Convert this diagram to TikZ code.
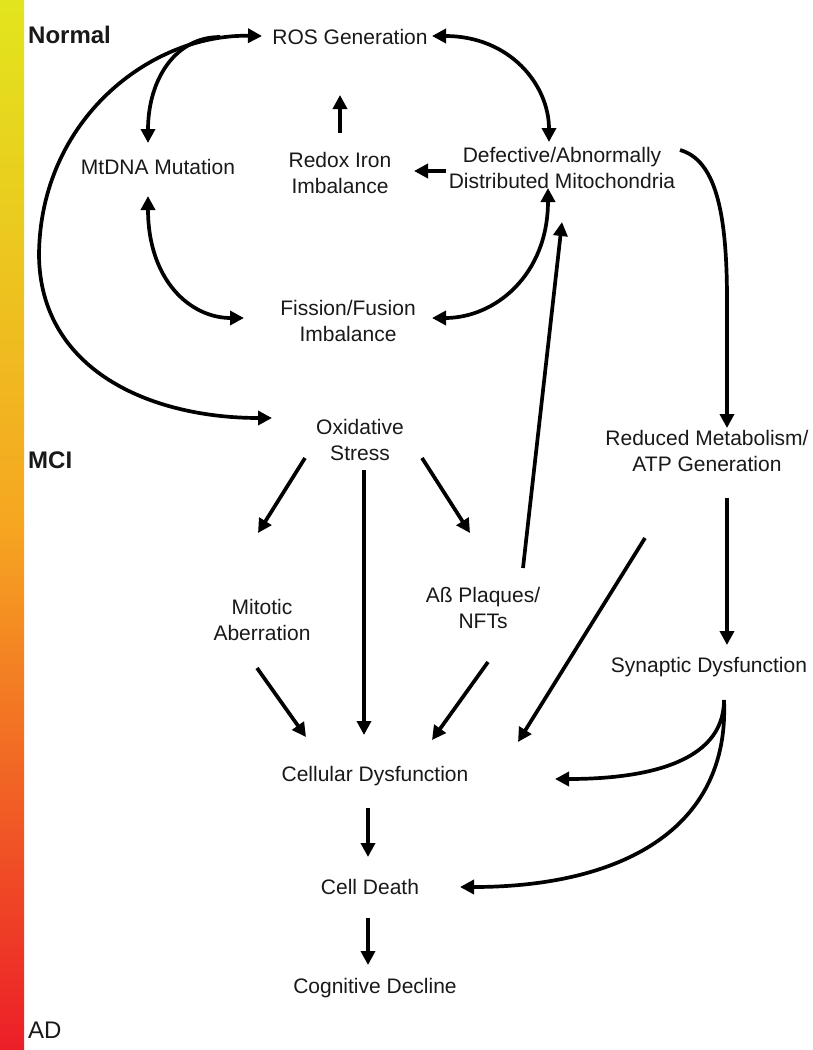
\documentclass[tikz,border=0pt]{standalone}
\usepackage{fontspec}
\setmainfont{Liberation Sans}
\usetikzlibrary{arrows.meta,calc}
\definecolor{barTop}{RGB}{226,229,29}
\definecolor{barMid}{RGB}{246,166,33}
\definecolor{barBot}{RGB}{236,30,40}
\tikzset{
  lbl/.style={align=center, inner sep=0pt, font=\fontsize{21}{26}\selectfont, text=black!90},
  stage/.style={anchor=west, inner sep=0pt, font=\fontsize{24}{28}\selectfont, text=black!90},
  arr/.style={line width=3.7pt, -{Triangle[length=14pt,width=14pt]}},
  darr/.style={line width=3.7pt, {Triangle[length=14pt,width=14pt]}-{Triangle[length=14pt,width=14pt]}}
}
\begin{document}
\begin{tikzpicture}[x=1pt,y=-1pt]
\useasboundingbox (0,0) rectangle (812,1050);
\fill[white] (0,0) rectangle (812,1050);
% gradient bar
\shade[top color=barTop, bottom color=barMid] (0,0) rectangle (24,526);
\shade[top color=barMid, bottom color=barBot] (0,525) rectangle (24,1050);
\node[stage, font=\bfseries\fontsize{24}{28}\selectfont] (normal) at (28,35) {Normal};
\node[stage, font=\bfseries\fontsize{24}{28}\selectfont] (mci) at (28,460) {MCI};
\node[stage] (ad) at (28,1030) {AD};

% nodes
\node[lbl] (ros) at (350,37) {ROS Generation};
\node[lbl] (mt) at (158,167) {MtDNA Mutation};
\node[lbl] (redox) at (340,173) {Redox Iron\\Imbalance};
\node[lbl] (def) at (562,168) {Defective/Abnormally\\Distributed Mitochondria};
\node[lbl] (fis) at (348,321) {Fission/Fusion\\Imbalance};
\node[lbl] (ox) at (360,440) {Oxidative\\Stress};
\node[lbl] (red) at (707,451) {Reduced Metabolism/\\ATP Generation};
\node[lbl] (mit) at (262,620) {Mitotic\\Aberration};
\node[lbl] (ab) at (483,608) {Aß Plaques/\\NFTs};
\node[lbl] (syn) at (709,667) {Synaptic Dysfunction};
\node[lbl] (cel) at (375,776) {Cellular Dysfunction};
\node[lbl] (cd) at (370,887) {Cell Death};
\node[lbl] (cog) at (375,988) {Cognitive Decline};

% connectors
\draw[darr] ($(ros)+(-88,-1)$) .. controls (150,34) and (40,120) .. (39,255)
   .. controls (40,370) and (150,418) .. ($(ox)+(-88,-22)$);
\draw[arr] ($(ros)+(-130,0)$) .. controls (175,37) and (148,80) .. ($(mt)+(-10,-24)$);
\draw[darr] ($(ros)+(82,-1)$) .. controls (510,36) and (549,85) .. ($(def)+(-13,-26)$);
\draw[arr] ($(redox)+(0,-40)$) -- ($(ros)+(-10,58)$);
\draw[arr] ($(def)+(-116,3)$) -- ($(redox)+(74,-2)$);
\draw[darr] ($(mt)+(-10,29)$) .. controls (148,280) and (190,318) .. ($(fis)+(-104,-3)$);
\draw[darr] ($(def)+(-14,20)$) .. controls (548,275) and (495,318) .. ($(fis)+(84,-3)$);
\draw[arr] ($(ab)+(40,-40)$) -- ($(def)+(0,54)$);
\draw[arr] ($(def)+(118,-18)$) .. controls (715,160) and (727,210) .. (727,300) -- ($(red)+(20,-23)$);
\draw[arr] ($(ox)+(-55,18)$) -- ($(mit)+(-4,-87)$);
\draw[arr] ($(ox)+(4,30)$) -- ($(cel)+(-11,-41)$);
\draw[arr] ($(ox)+(62,18)$) -- ($(ab)+(-13,-75)$);
\draw[arr] ($(mit)+(-5,48)$) -- ($(cel)+(-69,-39)$);
\draw[arr] ($(ab)+(5,54)$) -- ($(cel)+(57,-36)$);
\draw[arr] ($(red)+(-62,87)$) -- ($(cel)+(143,-34)$);
\draw[arr] ($(red)+(20,47)$) -- ($(syn)+(18,-22)$);
\draw[arr] ($(syn)+(15,33)$) .. controls (724,765) and (640,779) .. ($(cel)+(180,3)$);
\draw[arr] ($(syn)+(15,33)$) .. controls (730,830) and (620,887) .. ($(cd)+(90,0)$);
\draw[arr] ($(cel)+(-7,32)$) -- ($(cd)+(-2,-30)$);
\draw[arr] ($(cd)+(-2,31)$) -- ($(cog)+(-7,-23)$);
\end{tikzpicture}
\end{document}
